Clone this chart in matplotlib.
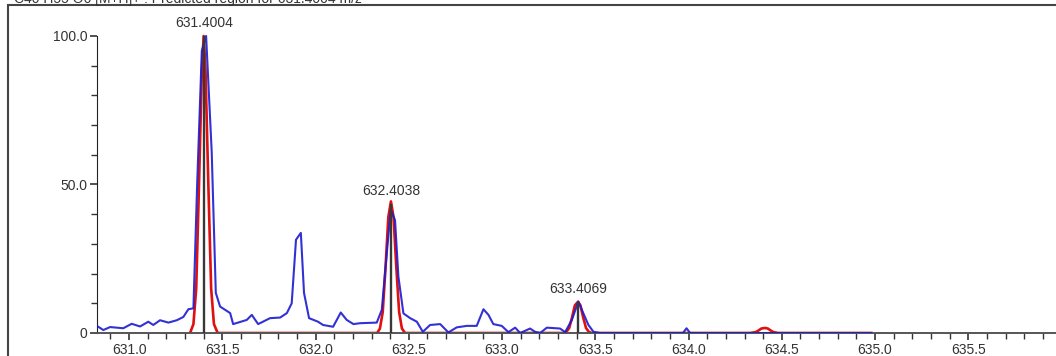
import numpy as np
import matplotlib.pyplot as plt
from matplotlib.patches import Rectangle
from matplotlib.ticker import MultipleLocator, FixedLocator

plt.rcParams['font.family'] = ['Liberation Sans', 'DejaVu Sans']

fs = 10  # fontsize

# measured spectrum (m/z, relative intensity)
meas_mz = [630.827, 630.862, 630.898, 630.969, 631.014, 631.059, 631.103, 631.130,
           631.166, 631.211, 631.256, 631.291, 631.318, 631.345, 631.365, 631.390,
           631.413, 631.443, 631.465, 631.488, 631.542, 631.558, 631.631, 631.658,
           631.692, 631.756, 631.810, 631.846, 631.872, 631.895, 631.921, 631.938,
           631.965, 632.013, 632.040, 632.094, 632.135, 632.167, 632.203, 632.239,
           632.328, 632.355, 632.382, 632.403, 632.426, 632.444, 632.471, 632.507,
           632.543, 632.575, 632.614, 632.668, 632.712, 632.757, 632.811, 632.864,
           632.900, 632.927, 632.953, 632.998, 633.034, 633.070, 633.097, 633.150,
           633.177, 633.204, 633.240, 633.311, 633.338, 633.374, 633.409, 633.436,
           633.463, 633.490, 633.525, 633.970, 633.989, 634.008, 634.979]
meas_int = [2.4, 1.0, 2.0, 1.6, 3.1, 2.2, 3.8, 2.7,
            4.3, 3.5, 4.3, 5.4, 8.0, 8.3, 50.0, 95.0,
            100.0, 61.0, 13.5, 8.9, 6.7, 3.0, 4.4, 6.1,
            3.0, 5.0, 5.2, 6.7, 10.0, 31.4, 33.7, 13.5,
            5.0, 3.8, 2.7, 2.1, 6.9, 4.4, 3.0, 3.3,
            3.5, 7.8, 27.0, 41.5, 38.0, 19.0, 6.6, 5.0,
            3.8, 0.4, 2.7, 3.0, 0.2, 1.9, 2.4, 2.4,
            8.0, 6.1, 3.0, 2.4, 0.3, 1.8, 0.0, 1.5,
            0.4, 0.0, 1.8, 1.5, 0.3, 4.4, 10.6, 6.6,
            2.7, 0.4, 0.0, 0.0, 1.6, 0.0, 0.0]

# predicted isotope profile
pred_mz = [631.327, 631.345, 631.360, 631.375, 631.390, 631.400, 631.410, 631.425,
           631.440, 631.455, 631.475,
           632.330, 632.345, 632.360, 632.375, 632.390, 632.404, 632.418, 632.433,
           632.448, 632.463, 632.480,
           633.330, 633.345, 633.360, 633.375, 633.390, 633.407, 633.420, 633.435,
           633.450, 633.465, 633.480,
           634.330, 634.360, 634.375, 634.390, 634.410, 634.425, 634.440, 634.455,
           634.480, 634.980]
pred_int = [0.0, 3.0, 15.0, 50.0, 88.0, 100.0, 88.0, 50.0,
            15.0, 3.0, 0.0,
            0.0, 1.5, 7.0, 22.0, 39.0, 44.3, 39.0, 22.0,
            7.0, 1.5, 0.0,
            0.0, 0.4, 1.7, 5.2, 9.3, 10.5, 9.3, 5.2,
            1.7, 0.4, 0.0,
            0.0, 0.3, 0.85, 1.5, 1.7, 1.5, 0.85, 0.3,
            0.0, 0.0]

# theoretical centroids
stick_mz = [631.4004, 632.4038, 633.4069]
stick_int = [100.0, 43.5, 10.5]
stick_labels = ['631.4004', '632.4038', '633.4069']

fig = plt.figure(figsize=(10.56, 3.56), dpi=100)
ax = fig.add_axes([97 / 1056, 23 / 356, 959 / 1056, 320.8 / 356])

ax.plot(pred_mz, pred_int, color='#e01010', lw=1.9, zorder=2)
ax.plot(meas_mz, meas_int, color='#1c1cd0', lw=1.5, alpha=0.9, zorder=3)
ax.vlines(stick_mz, 0, stick_int, color='#383838', lw=1.7, zorder=4)
for m, h, t in zip(stick_mz, stick_int, stick_labels):
    ax.annotate(t, (m, h), xytext=(0, 4), textcoords='offset points',
                ha='center', va='bottom', fontsize=fs, color='#333333')

ax.set_xlim(630.828, 635.97)
ax.set_ylim(0, 108)
ax.spines['top'].set_visible(False)
ax.spines['right'].set_visible(False)
ax.spines['left'].set_bounds(0, 100)
ax.spines['left'].set_color('#222222')
ax.spines['bottom'].set_color('#555555')
ax.spines['bottom'].set_linewidth(1.4)

ax.xaxis.set_major_locator(MultipleLocator(0.5))
ax.xaxis.set_minor_locator(MultipleLocator(0.1))
ax.xaxis.set_major_formatter(lambda v, p: f'{v:.1f}')
ax.yaxis.set_major_locator(FixedLocator([0, 50, 100]))
ax.yaxis.set_minor_locator(FixedLocator([10, 20, 30, 40, 60, 70, 80, 90]))
ax.set_yticklabels(['0', '50.0', '100.0'])
ax.tick_params(axis='both', which='major', labelsize=fs, labelcolor='#333333',
               color='#333333', length=5, width=1.2, pad=2)
ax.tick_params(axis='both', which='minor', color='#333333', length=4, width=1.0)

# outer frame; header line sits above it, partly off the top edge
fig.patches.append(Rectangle((7.5 / 1056, -0.1), 1.2, (351 / 356) + 0.1,
                             transform=fig.transFigure, fill=False,
                             edgecolor='#444444', lw=1.5))
fig.text(14 / 1056, 1 - 3 / 356, 'C40 H55 O6 [M+H]+ : Predicted region for 631.4004 m/z',
         fontsize=fs, color='#333333', va='baseline', ha='left')

fig.savefig('out.png', dpi=100)
